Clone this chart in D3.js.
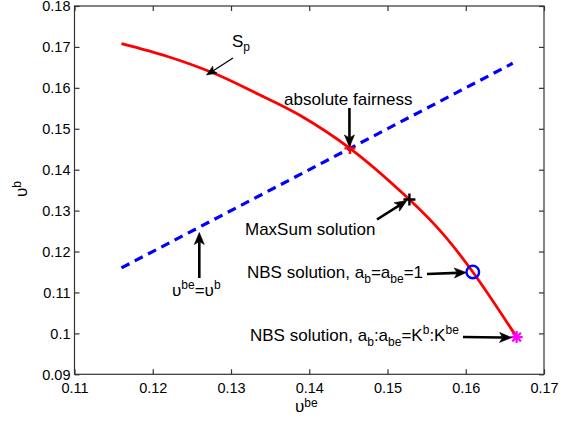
<!DOCTYPE html>
<html>
<head>
<meta charset="utf-8">
<script src="https://cdn.jsdelivr.net/npm/d3@7"></script>
<style>
  body { margin: 0; background: #fff; }
  svg { display: block; }
  text { font-family: "Liberation Sans", Arial, Helvetica, sans-serif; fill: #000; }
</style>
</head>
<body>
<svg id="chart" width="573" height="424"></svg>
<script>
// Axis ticks
const xTicks = [0.11, 0.12, 0.13, 0.14, 0.15, 0.16, 0.17];
const yTicks = [0.09, 0.10, 0.11, 0.12, 0.13, 0.14, 0.15, 0.16, 0.17, 0.18];

// Pareto frontier S_p (υ^be, υ^b)
const frontierBe = [0.1160, 0.1220, 0.1279, 0.1330, 0.1388, 0.1452, 0.1528, 0.1570, 0.1609, 0.1665];
const frontierB  = [0.1708, 0.1676, 0.1635, 0.1589, 0.1533, 0.1452, 0.1327, 0.1245, 0.1150, 0.0991];

// Equal-utility line υ^be = υ^b
const equalBe = [0.116, 0.166];
const equalB  = [0.116, 0.166];

// Solution points
const fairPoint        = [0.1452, 0.1452];
const maxSumPoint      = [0.1528, 0.1327];
const nbsEqualPoint    = [0.1609, 0.1150];
const nbsWeightedPoint = [0.1665, 0.0991];

const svg = d3.select("#chart");
const plot = { left: 74.5, right: 544, top: 6, bottom: 374.3 };

const x = d3.scaleLinear().domain([0.11, 0.17]).range([plot.left, plot.right]);
const y = d3.scaleLinear().domain([0.09, 0.18]).range([plot.bottom, plot.top]);

const axisColor = "#333";
const tickFmt = d => (+d.toFixed(2)).toString();
const subSize = 12;

// Frame
svg.append("rect")
  .attr("x", plot.left).attr("y", plot.top)
  .attr("width", plot.right - plot.left).attr("height", plot.bottom - plot.top)
  .attr("fill", "none").attr("stroke", axisColor).attr("stroke-width", 1.2);

// Axes with inward ticks on all four sides
const tickLen = 5;
const gx = svg.append("g").attr("transform", `translate(0,${plot.bottom})`)
  .call(d3.axisBottom(x).tickValues(xTicks).tickSizeInner(-tickLen).tickSizeOuter(0).tickPadding(8).tickFormat(tickFmt));
const gxTop = svg.append("g").attr("transform", `translate(0,${plot.top})`)
  .call(d3.axisTop(x).tickValues(xTicks).tickSizeInner(-tickLen).tickSizeOuter(0).tickFormat(""));
const gy = svg.append("g").attr("transform", `translate(${plot.left},0)`)
  .call(d3.axisLeft(y).tickValues(yTicks).tickSizeInner(-tickLen).tickSizeOuter(0).tickPadding(4).tickFormat(tickFmt));
const gyRight = svg.append("g").attr("transform", `translate(${plot.right},0)`)
  .call(d3.axisRight(y).tickValues(yTicks).tickSizeInner(-tickLen).tickSizeOuter(0).tickFormat(""));

[gx, gxTop, gy, gyRight].forEach(g => {
  g.select(".domain").remove();
  g.selectAll(".tick line").attr("stroke", axisColor).attr("stroke-width", 1.2);
  g.selectAll(".tick text")
    .attr("font-family", '"Liberation Sans", Arial, sans-serif')
    .attr("font-size", 14.5).attr("fill", "#111");
});
gx.selectAll(".tick text").attr("dy", "0.71em").attr("y", 8.5);
gy.selectAll(".tick text").attr("dy", "0.34em");

// Axis labels
const xl = svg.append("text").attr("x", 295).attr("y", 412).attr("font-size", 17);
xl.append("tspan").text("υ");
xl.append("tspan").attr("dy", -5.5).attr("font-size", subSize).text("be");

const yl = svg.append("text").attr("transform", "translate(27,197) rotate(-90)").attr("font-size", 17);
yl.append("tspan").text("υ");
yl.append("tspan").attr("dy", -6).attr("font-size", subSize).text("b");

// Equal-utility dashed line
const line = d3.line().x(d => x(d[0])).y(d => y(d[1]));
svg.append("path")
  .datum(d3.zip(equalBe, equalB))
  .attr("d", line)
  .attr("fill", "none").attr("stroke", "#0000ff").attr("stroke-width", 3.2)
  .attr("stroke-dasharray", "9,6");

// Frontier curve
const curve = d3.line().x(d => x(d[0])).y(d => y(d[1])).curve(d3.curveCatmullRom.alpha(0.5));
svg.append("path")
  .datum(d3.zip(frontierBe, frontierB))
  .attr("d", curve)
  .attr("fill", "none").attr("stroke", "#ff0000").attr("stroke-width", 2.8);

// Markers
function plus(p, size, color, width) {
  const cx = x(p[0]), cy = y(p[1]);
  svg.append("path")
    .attr("d", `M${cx - size},${cy}H${cx + size}M${cx},${cy - size}V${cy + size}`)
    .attr("stroke", color).attr("stroke-width", width).attr("fill", "none");
}
plus(fairPoint, 5.5, "#ff0000", 2.4);
plus(maxSumPoint, 6, "#000", 2.4);

svg.append("circle")
  .attr("cx", x(nbsEqualPoint[0])).attr("cy", y(nbsEqualPoint[1])).attr("r", 6.3)
  .attr("fill", "none").attr("stroke", "#0000ff").attr("stroke-width", 2.4);

{
  const cx = x(nbsWeightedPoint[0]), cy = y(nbsWeightedPoint[1]), s = 6, d = s * 0.72;
  svg.append("path")
    .attr("d", `M${cx - s},${cy}H${cx + s}M${cx},${cy - s}V${cy + s}` +
               `M${cx - d},${cy - d}L${cx + d},${cy + d}M${cx - d},${cy + d}L${cx + d},${cy - d}`)
    .attr("stroke", "#ff00ff").attr("stroke-width", 2.2).attr("fill", "none");
}

// Annotation arrows
function arrow(x1, y1, x2, y2, opts = {}) {
  const w = opts.width ?? 2.6, L = opts.head ?? 12, W = opts.half ?? 5, notch = opts.notch ?? 3;
  const dx = x2 - x1, dy = y2 - y1, len = Math.hypot(dx, dy);
  const ux = dx / len, uy = dy / len, nx = -uy, ny = ux;
  const bx = x2 - L * ux, by = y2 - L * uy;
  const mx = x2 - (L - notch) * ux, my = y2 - (L - notch) * uy;
  svg.append("line").attr("x1", x1).attr("y1", y1).attr("x2", mx).attr("y2", my)
    .attr("stroke", "#000").attr("stroke-width", w);
  svg.append("path")
    .attr("d", `M${x2},${y2}L${bx + W * nx},${by + W * ny}L${mx},${my}L${bx - W * nx},${by - W * ny}Z`)
    .attr("fill", "#000").attr("stroke", "#000").attr("stroke-width", 0.6);
}

// S_p label
const sp = svg.append("text").attr("x", 232).attr("y", 47).attr("font-size", 17);
sp.append("tspan").text("S");
sp.append("tspan").attr("dy", 4).attr("font-size", subSize).text("p");
arrow(233, 58, 206.5, 75, { width: 1.3, head: 10, half: 4, notch: 2 });

// absolute fairness
svg.append("text").attr("x", 284).attr("y", 105).attr("font-size", 17).text("absolute fairness");
arrow(x(fairPoint[0]) - 0.5, 108, x(fairPoint[0]) - 0.5, y(fairPoint[1]) - 1.5);

// MaxSum solution
svg.append("text").attr("x", 245).attr("y", 235).attr("font-size", 17).text("MaxSum solution");
arrow(377, 219.5, x(maxSumPoint[0]) - 2.5, y(maxSumPoint[1]) + 1);

// NBS solution, equal weights
const nb1 = svg.append("text").attr("x", 247).attr("y", 278).attr("font-size", 17);
nb1.append("tspan").text("NBS solution, a");
nb1.append("tspan").attr("dy", 5).attr("font-size", subSize).text("b");
nb1.append("tspan").attr("dy", -5).text("=a");
nb1.append("tspan").attr("dy", 5).attr("font-size", subSize).text("be");
nb1.append("tspan").attr("dy", -5).text("=1");
arrow(427, 274, x(nbsEqualPoint[0]) - 6.5, y(nbsEqualPoint[1]) + 0.5);

// NBS solution, weighted
const nb2 = svg.append("text").attr("x", 250).attr("y", 341).attr("font-size", 17);
nb2.append("tspan").text("NBS solution, a");
nb2.append("tspan").attr("dy", 5).attr("font-size", subSize).text("b");
nb2.append("tspan").attr("dy", -5).text(":a");
nb2.append("tspan").attr("dy", 5).attr("font-size", subSize).text("be");
nb2.append("tspan").attr("dy", -5).text("=K");
nb2.append("tspan").attr("dy", -7).attr("font-size", subSize).text("b");
nb2.append("tspan").attr("dy", 7).text(":K");
nb2.append("tspan").attr("dy", -7).attr("font-size", subSize).text("be");
arrow(463, 337, x(nbsWeightedPoint[0]) - 5, y(nbsWeightedPoint[1]) + 0.5);

// υ^be = υ^b label
const eq = svg.append("text").attr("x", 172).attr("y", 296).attr("font-size", 17);
eq.append("tspan").text("υ");
eq.append("tspan").attr("dy", -7).attr("font-size", subSize).text("be");
eq.append("tspan").attr("dy", 7).text("=υ");
eq.append("tspan").attr("dy", -7).attr("font-size", subSize).text("b");
arrow(199.3, 278, 199.3, y(0.126) + 5.5);
</script>
</body>
</html>
